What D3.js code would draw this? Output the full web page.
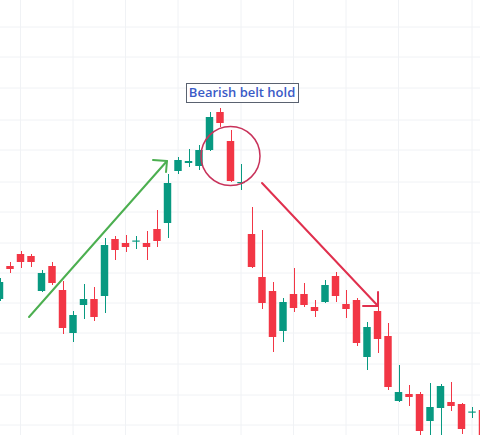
<!DOCTYPE html>
<html>
<head>
<meta charset="utf-8">
<script src="https://cdn.jsdelivr.net/npm/d3@7"></script>
<style>
  html, body { margin: 0; padding: 0; background: #ffffff; overflow: hidden; }
  svg { display: block; }
</style>
</head>
<body>
<svg id="chart" width="480" height="435"></svg>
<script>
// ---- data ----
const dates = ["09-01","09-04","09-05","09-06","09-07","09-08","09-11","09-12","09-13","09-14",
  "09-15","09-18","09-19","09-20","09-21","09-22","09-25","09-26","09-27","09-28",
  "09-29","10-02","10-03","10-04","10-05","10-06","10-09","10-10","10-11","10-12",
  "10-13","10-16","10-17","10-18","10-19","10-20","10-23","10-24","10-25","10-26",
  "10-27","10-30","10-31","11-01","11-02","11-03","11-06"];
const open  = [90.2,96.8,99.2,98.8,91.8,96.8,92.0,83.4,89.0,90.2,
  90.8,102.2,101.4,101.7,101.4,104.2,105.4,115.8,117.4,116.8,
  120.0,127.6,121.8,113.4,103.2,94.6,91.8,83.8,91.2,91.2,
  88.6,89.6,94.8,89.2,90.0,78.6,87.8,82.8,69.8,71.2,
  71.2,65.8,68.4,69.6,69.2,67.5,68.0];
const high  = [94.4,97.6,99.8,99.2,96.0,97.6,93.8,87.8,93.2,92.6,
  102.4,102.8,103.0,102.8,103.8,108.0,115.2,118.6,120.2,121.0,
  127.6,128.4,124.0,117.2,108.6,104.0,93.6,90.4,96.4,93.4,
  90.0,94.0,95.6,92.0,90.4,85.6,91.6,85.4,77.0,73.0,
  71.6,73.4,73.2,73.6,69.4,68.6,69.4];
const low   = [89.8,95.4,96.4,96.6,91.6,93.0,83.2,81.6,86.2,85.8,
  87.4,98.0,99.6,100.2,98.0,100.6,102.4,115.2,116.6,116.0,
  119.8,124.6,113.6,112.0,96.4,88.2,79.6,81.6,87.6,88.6,
  86.6,89.4,89.6,86.4,80.8,76.0,79.4,72.0,69.6,68.8,
  62.4,62.0,62.0,67.8,63.2,66.4,62.0];
const close = [93.6,96.2,97.6,97.6,95.4,93.4,84.4,87.0,90.2,86.6,
  101.0,100.0,100.6,101.9,100.6,101.8,113.4,118.0,117.8,120.0,
  126.6,125.4,113.8,113.6,96.6,89.4,82.6,89.6,88.4,89.0,
  87.8,93.0,90.8,88.2,81.4,84.6,82.2,72.6,71.6,70.6,
  63.8,68.6,72.8,68.8,64.2,67.7,62.0];
const gridDates  = ["09-05","09-12","09-19","09-26","10-04","10-11","10-18","10-25","11-03"];
const gridPrices = [144.6,138.6,132.4,126.0,120.0,113.6,107.6,101.4,95.4,89.4,83.4,77.2,71.0,65.0];
const labelText = "Bearish belt hold";
// annotation anchors (bar index, price)
const upArrow   = [[2.81, 86.6], [15.95, 117.8]];
const upHead    = [[14.62, 118.0], [15.95, 117.8], [15.86, 115.6]];
const downArrow = [[25.0, 113.4], [36.05, 88.8]];
const downHead  = [[34.62, 88.8], [36.05, 88.8], [36.05, 91.6]];
const circleAt  = [22.0, 118.8];
const labelAt   = [23.1, 131.6];

// ---- scales ----
const W = 480, H = 435;
const step = 10.5, x0 = -0.5;
const x = d3.scaleBand().domain(dates)
  .range([x0 - step / 2, x0 + (dates.length - 0.5) * step])
  .paddingInner(0.29).paddingOuter(0.145);
const xi = d3.scaleLinear().domain([0, dates.length - 1])
  .range([x(dates[0]) + x.bandwidth() / 2, x(dates[dates.length - 1]) + x.bandwidth() / 2]);
const y = d3.scaleLinear().domain([63, 150]).range([H, 0]);

const svg = d3.select("#chart");
const upC = "#089981", dnC = "#f23645";

// grid
const g = svg.append("g");
g.selectAll("line.v").data(gridDates).join("line")
  .attr("x1", d => x(d) + x.bandwidth() / 2).attr("x2", d => x(d) + x.bandwidth() / 2)
  .attr("y1", 0).attr("y2", H).attr("stroke", "#f0f2f5").attr("stroke-width", 1);
g.selectAll("line.h").data(gridPrices).join("line")
  .attr("x1", 0).attr("x2", W).attr("y1", d => y(d)).attr("y2", d => y(d))
  .attr("stroke", "#f0f2f5").attr("stroke-width", 1);

// candles
const bars = dates.map((d, i) => ({ d, o: open[i], h: high[i], l: low[i], c: close[i] }));
const cg = svg.append("g");
cg.selectAll("line.wick").data(bars).join("line")
  .attr("x1", b => Math.round(x(b.d) + x.bandwidth() / 2) + 0.5)
  .attr("x2", b => Math.round(x(b.d) + x.bandwidth() / 2) + 0.5)
  .attr("y1", b => y(b.h)).attr("y2", b => y(b.l))
  .attr("stroke", b => b.c >= b.o ? upC : dnC).attr("stroke-width", 1);
cg.selectAll("rect.body").data(bars).join("rect")
  .attr("x", b => x(b.d)).attr("width", x.bandwidth())
  .attr("y", b => y(Math.max(b.o, b.c)))
  .attr("height", b => Math.max(1.2, Math.abs(y(b.o) - y(b.c))))
  .attr("fill", b => b.c >= b.o ? upC : dnC);

// annotations
const line = d3.line().x(p => xi(p[0])).y(p => y(p[1]));
const ag = svg.append("g").attr("fill", "none").attr("stroke-linecap", "round").attr("stroke-linejoin", "round");
ag.append("path").attr("d", line(upArrow)).attr("stroke", "#4caf50").attr("stroke-width", 2);
ag.append("path").attr("d", line(upHead)).attr("stroke", "#4caf50").attr("stroke-width", 2);
ag.append("path").attr("d", line(downArrow)).attr("stroke", "#e0304e").attr("stroke-width", 2);
ag.append("path").attr("d", line(downHead)).attr("stroke", "#e0304e").attr("stroke-width", 2);
ag.append("circle").attr("cx", xi(circleAt[0])).attr("cy", y(circleAt[1])).attr("r", 29.5)
  .attr("stroke", "#c8325a").attr("stroke-width", 1.5);

// label
const lg = svg.append("g");
const t = lg.append("text").attr("x", xi(labelAt[0])).attr("y", y(labelAt[1]))
  .attr("text-anchor", "middle").attr("dominant-baseline", "central")
  .attr("font-family", "'Open Sans', sans-serif").attr("font-weight", 600).attr("font-size", 13)
  .attr("fill", "#3a5bc7").text(labelText);
const bb = t.node().getBBox();
lg.insert("rect", "text")
  .attr("x", Math.round(bb.x - 3) + 0.5).attr("y", Math.round(y(labelAt[1]) - 9.5) + 0.5)
  .attr("width", Math.round(bb.width + 6)).attr("height", 19)
  .attr("fill", "#ffffff").attr("stroke", "#5a6270").attr("stroke-width", 1);
</script>
</body>
</html>
